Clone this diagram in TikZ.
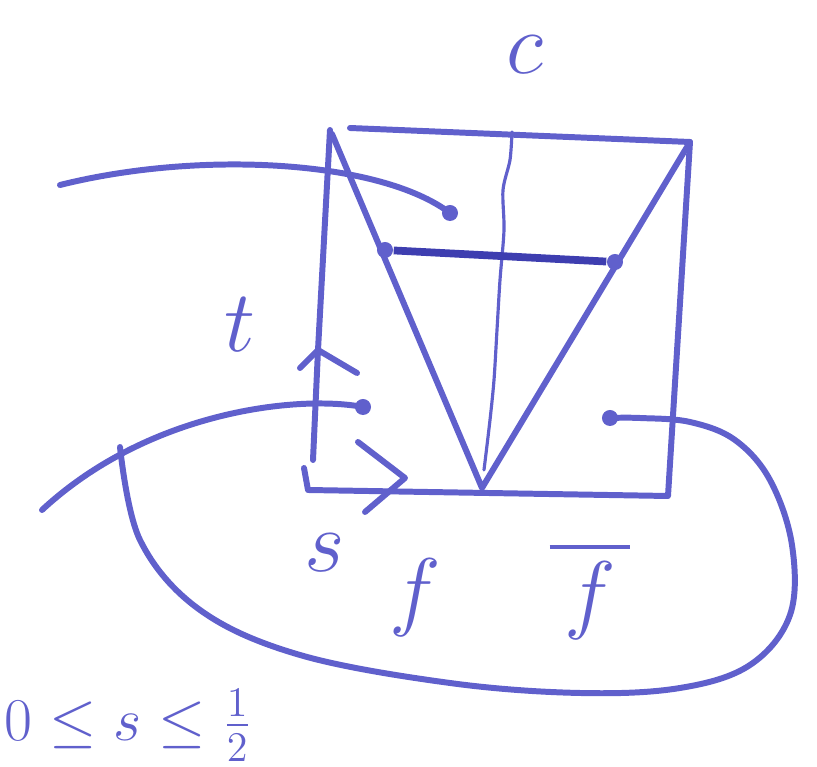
\documentclass[tikz,border=0pt]{standalone}
\usepackage{amsmath, amssymb}
\usetikzlibrary{calc}

\definecolor{ink}{RGB}{96,96,204}
\definecolor{darkink}{RGB}{62,62,176}

\begin{document}
\begin{tikzpicture}[
    x=0.01cm, y=-0.01cm,
    pen/.style={draw=ink, line width=1.7pt, line cap=round, line join=round},
    thinpen/.style={draw=ink, line width=0.9pt, line cap=round},
    dot/.style={circle, fill=ink, inner sep=0pt, minimum size=0.16cm},
    letter/.style={text=ink, inner sep=0pt, font=\fontsize{30}{36}\selectfont}
  ]
    \clip (0,0) rectangle (817,767);

    % corners of the square and the bottom point
    \coordinate (tl) at (330,130);
    \coordinate (tr) at (690,142);
    \coordinate (bl) at (308,490);
    \coordinate (br) at (668,496);
    \coordinate (apex) at (482,488);

    % square with the axes
    \draw[pen] (350,128) -- (tr) -- (br) -- (bl) -- (304,468);
    \draw[pen] (tl) -- (318,350) -- (313,460);
    \draw[pen] (300,368) -- (318,350) -- (357,373);
    \draw[pen] (358,442) -- (405,478) -- (365,512);

    % the V and the middle line
    \draw[pen] (332,134) -- (apex) -- (tr);
    \draw[thinpen] plot[smooth] coordinates {(512,132) (510,160) (503,190) (504,230)
      (500,280) (497,330) (494,380) (490,420) (484,470)};

    % horizontal segment
    \node[dot] (hl) at (385,250) {};
    \node[dot] (hr) at (615,262) {};
    \draw[draw=darkink, line width=2.2pt] (hl) -- (hr);

    % curves
    \node[dot] (e1) at (450,213) {};
    \node[dot] (e2) at (363,407) {};
    \node[dot] (e3) at (610,418) {};
    \draw[pen] (60,185) .. controls (200,150) and (380,160) .. (e1.center);
    \draw[pen] (42,510) .. controls (150,410) and (300,395) .. (e2.center);
    \draw[pen] plot[smooth, tension=0.6] coordinates {(120,447) (140,540) (200,610)
      (300,655) (450,683) (580,693) (680,688) (750,665) (790,615) (792,545)
      (770,480) (735,440) (690,422) (640,418) (610,418)};

    % labels
    \node[letter] (lc) at (525,55) {$c$};
    \node[letter] (lt) at (240,325) {$t$};
    \node[letter] (ls) at (325,553) {$s$};
    \node[letter] (lf) at (415,598) {$f$};
    \node[letter] (lfbar) at (590,590) {$\overline{\,f\,}$};
    \node[text=ink, inner sep=0pt, anchor=south west, font=\fontsize{17}{20}\selectfont]
      (cond) at (4,762) {$0\leq s\leq\frac{1}{2}$};
\end{tikzpicture}
\end{document}
